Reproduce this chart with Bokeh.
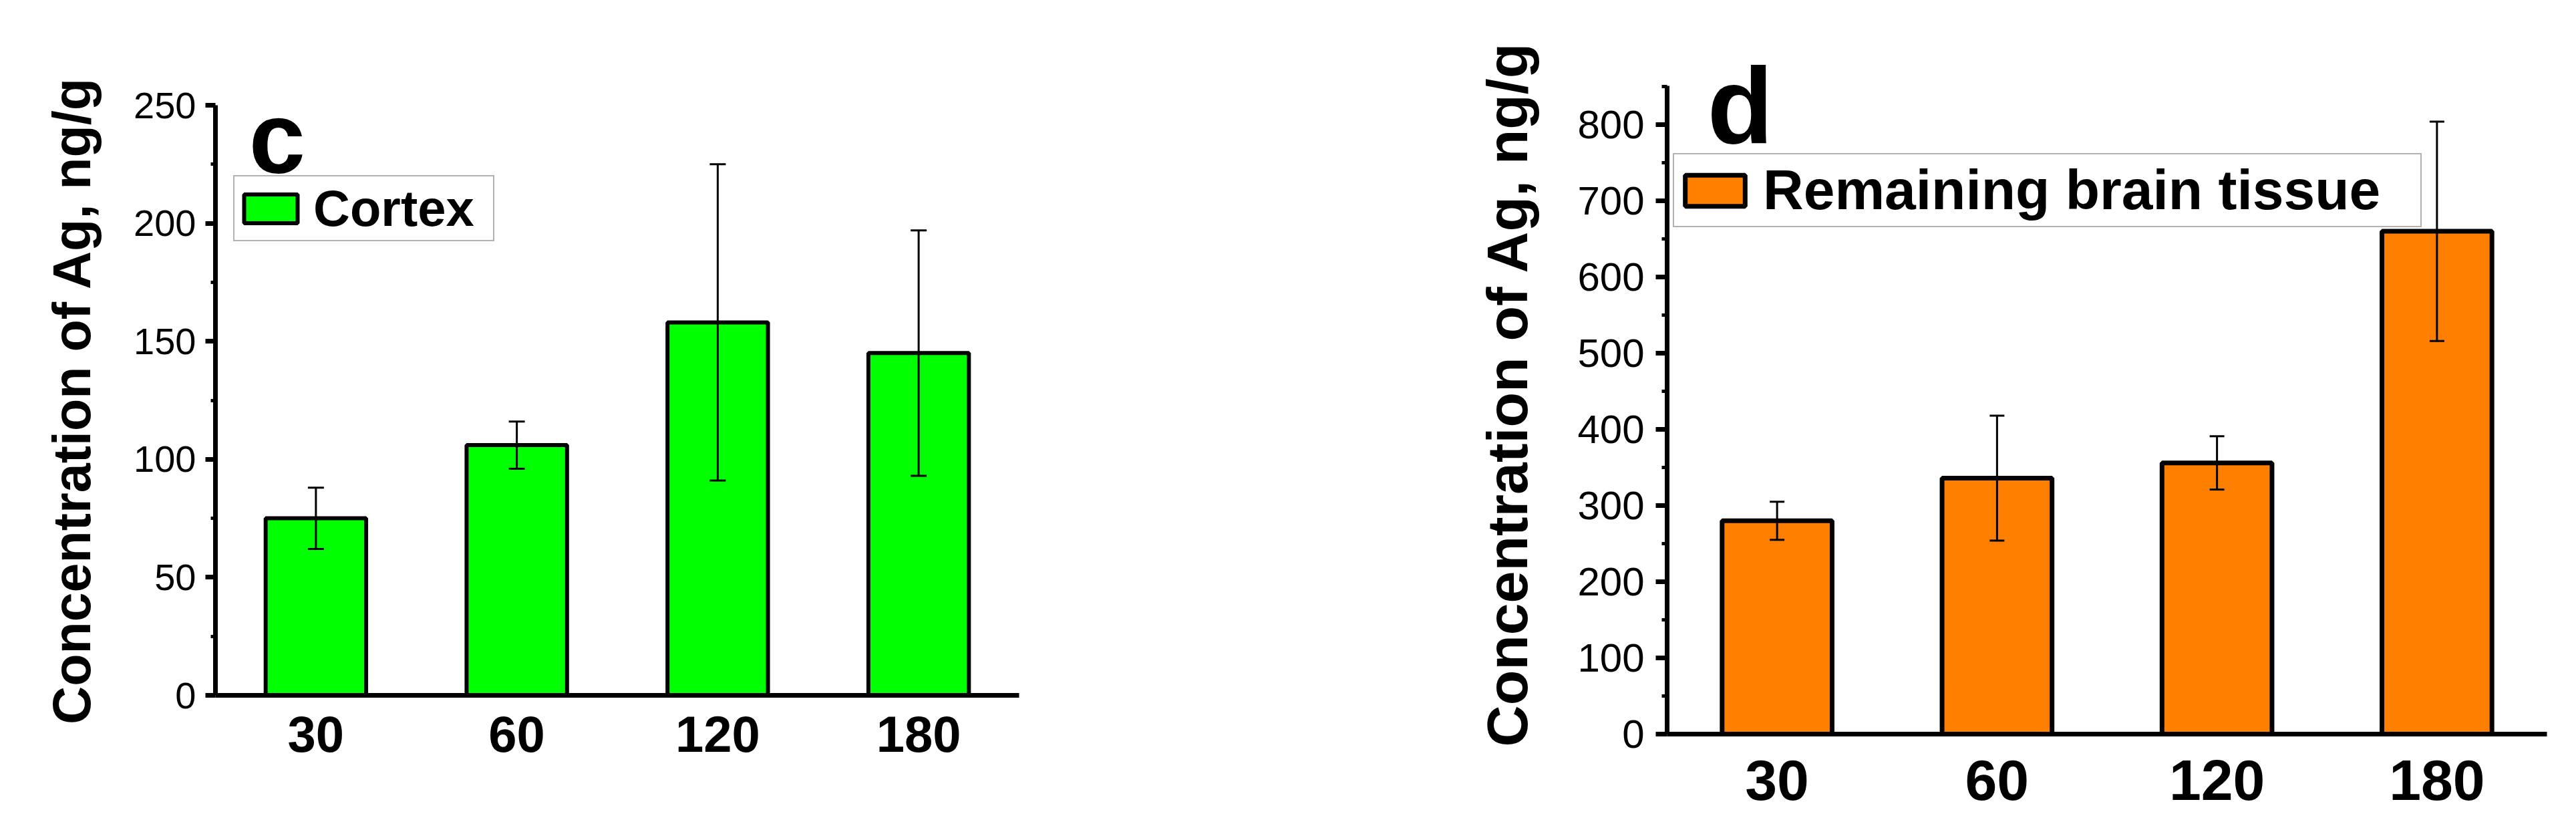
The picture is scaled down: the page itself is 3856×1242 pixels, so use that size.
from bokeh.plotting import figure
from bokeh.models import (ColumnDataSource, Range1d, FactorRange, FixedTicker, Whisker,
                          TeeHead, Legend, LegendItem, Label)
from bokeh.layouts import row, column
from bokeh.embed import file_html
from bokeh.resources import INLINE

# ---- data ----
times = ["30", "60", "120", "180"]
cortex_mean = [75, 106, 158, 145]
cortex_err = [13, 10, 67, 52]
remaining_mean = [280, 336, 356, 660]
remaining_err = [25, 82, 35, 144]

cortex_ticks = [0, 50, 100, 150, 200, 250]
cortex_minor = [25, 75, 125, 175, 225]
remaining_ticks = [0, 100, 200, 300, 400, 500, 600, 700, 800]
remaining_minor = [50, 150, 250, 350, 450, 550, 650, 750, 850]

FONT = "Liberation Sans"
YLABEL = "Concentration of Ag, ng/g"


def make_panel(means, errs, ymax, yview, ticks, minor, color, legend_text, letter,
               width, height, borders, fs, geom):
    src = ColumnDataSource(dict(
        x=times, top=means,
        upper=[m + e for m, e in zip(means, errs)],
        lower=[m - e for m, e in zip(means, errs)],
    ))
    p = figure(x_range=FactorRange(factors=times, range_padding=0),
               y_range=Range1d(0, yview),
               width=width, height=height, output_backend="svg",
               toolbar_location=None, tools="")
    p.min_border_left, p.min_border_right, p.min_border_top, p.min_border_bottom = borders
    p.outline_line_color = None
    p.xgrid.visible = False
    p.ygrid.visible = False
    p.background_fill_color = "white"

    r = p.vbar(x="x", top="top", width=0.5, source=src, fill_color=color,
               line_color="black", line_width=geom["bar_lw"])

    w = Whisker(base="x", upper="upper", lower="lower", source=src,
                line_color="black", line_width=3, level="overlay",
                upper_head=TeeHead(size=geom["cap"], line_width=3, line_color="black"),
                lower_head=TeeHead(size=geom["cap"], line_width=3, line_color="black"))
    p.add_layout(w)

    # x axis
    xa = p.xaxis[0]
    xa.axis_line_width = geom["axis_lw"]
    xa.axis_line_color = "black"
    xa.major_tick_line_color = None
    xa.minor_tick_line_color = None
    xa.major_label_text_font = FONT
    xa.major_label_text_font_style = "bold"
    xa.major_label_text_font_size = fs["x"]
    xa.major_label_text_color = "black"
    xa.major_label_standoff = geom["x_standoff"]

    # y axis
    ya = p.yaxis[0]
    ya.bounds = (0, ymax)
    ya.ticker = FixedTicker(ticks=ticks, minor_ticks=minor)
    ya.axis_line_width = geom["axis_lw"]
    ya.axis_line_color = "black"
    ya.major_tick_line_width = geom["axis_lw"]
    ya.minor_tick_line_width = 5
    ya.major_tick_in = 0
    ya.major_tick_out = geom["tick_out"]
    ya.minor_tick_in = 0
    ya.minor_tick_out = geom["minor_out"]
    ya.major_label_text_font = FONT
    ya.major_label_text_font_size = fs["y"]
    ya.major_label_text_color = "black"
    ya.major_label_standoff = geom["y_standoff"]
    ya.axis_label = YLABEL
    ya.axis_label_text_font = FONT
    ya.axis_label_text_font_style = "bold"
    ya.axis_label_text_font_size = fs["label"]
    ya.axis_label_text_color = "black"
    ya.axis_label_standoff = geom["label_standoff"]

    leg = Legend(items=[LegendItem(label=legend_text, renderers=[r])],
                 location=geom["leg_loc"], margin=0, padding=geom["leg_pad"],
                 glyph_width=geom["glyph_w"], glyph_height=geom["glyph_h"],
                 label_standoff=geom["leg_standoff"], label_width=geom["label_w"],
                 label_height=geom["label_h"],
                 label_text_font=FONT, label_text_font_style="bold",
                 label_text_font_size=fs["legend"], label_text_color="black",
                 border_line_color="#666666", border_line_width=2,
                 background_fill_color="white", background_fill_alpha=1.0)
    p.add_layout(leg)

    lab = Label(x=geom["letter_xy"][0], y=geom["letter_xy"][1],
                x_units="screen", y_units="screen", text=letter,
                text_font=FONT, text_font_style="bold",
                text_font_size=fs["letter"], text_color="black",
                text_baseline="alphabetic")
    p.add_layout(lab)
    return p


p1 = make_panel(cortex_mean, cortex_err, 250, 250, cortex_ticks, cortex_minor,
                "#00FF00", "Cortex", "c", 1908, 1234, (322, 383, 157, 194),
                dict(x="76px", y="56px", label="79px", legend="76px", letter="152px"),
                dict(bar_lw=6, cap=24, axis_lw=7, tick_out=15, minor_out=7,
                     x_standoff=25, y_standoff=14, label_standoff=45,
                     leg_loc=(27, 679), leg_pad=4, glyph_w=100, glyph_h=54,
                     leg_standoff=14, label_w=265, label_h=79,
                     letter_xy=(50, 835)))

p2 = make_panel(remaining_mean, remaining_err, 851, 893, remaining_ticks, remaining_minor,
                "#FF8000", "Remaining brain tissue", "d", 1940, 1234, (587, 36, 80, 136),
                dict(x="86px", y="60px", label="86px", legend="84px", letter="162px"),
                dict(bar_lw=7, cap=22, axis_lw=7, tick_out=17, minor_out=8,
                     x_standoff=33, y_standoff=17, label_standoff=54,
                     leg_loc=(9, 758), leg_pad=5, glyph_w=112, glyph_h=58,
                     leg_standoff=16, label_w=979, label_h=81,
                     letter_xy=(60, 941)))

layout = row(column(p1), column(p2))
open("out.html", "w").write(file_html(layout, INLINE))
